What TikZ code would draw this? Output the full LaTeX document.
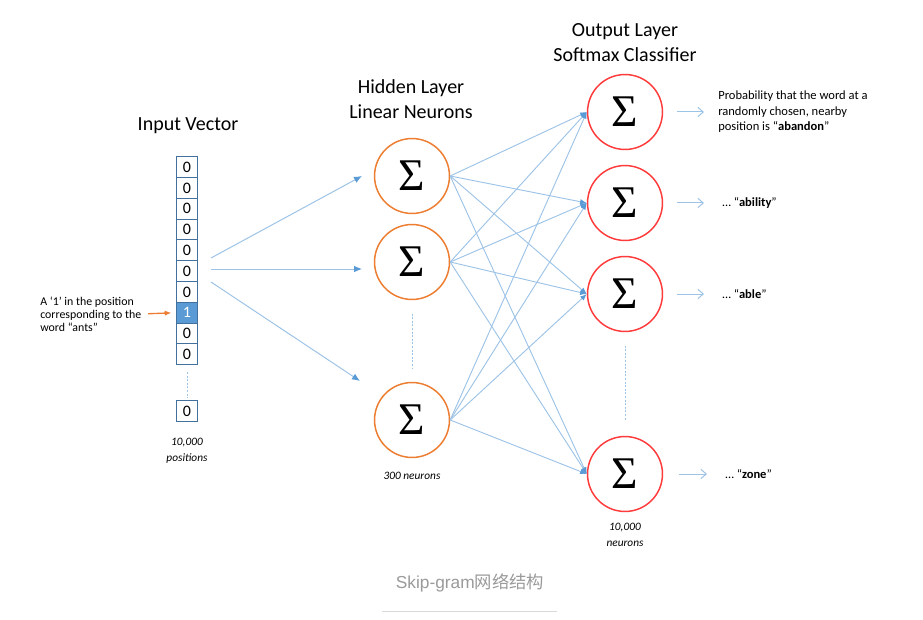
\documentclass[tikz,border=0pt]{standalone}
\usepackage{fontspec}
\setmainfont{Carlito}
\newfontfamily\sigfont{Liberation Serif}
\newfontfamily\capfont{Liberation Sans}
\newfontfamily\cjk{Noto Sans CJK SC}
\usepackage{tikz}
\usetikzlibrary{arrows.meta}
\definecolor{hidorange}{HTML}{ED7D31}
\definecolor{outred}{HTML}{FF3B3B}
\definecolor{lineblue}{HTML}{9DC3E6}
\definecolor{tipblue}{HTML}{5B9BD5}
\definecolor{boxblue}{HTML}{41719C}
\definecolor{capgray}{HTML}{9A9A9A}
\newcommand{\sig}{{\sigfont Σ}}

\begin{document}
\begin{tikzpicture}[x=0.75pt,y=-0.75pt,
  vbox/.style={draw=boxblue,line width=0.8pt,minimum size=15.6pt,inner sep=0pt,font=\fontsize{12}{12}\selectfont},
  hot/.style={vbox,fill=tipblue,text=white},
  hid/.style={circle,draw=hidorange,line width=1.1pt,minimum size=56.2pt,inner sep=0pt,font=\fontsize{34}{34}\selectfont},
  outn/.style={hid,draw=outred},
  title/.style={align=center,font=\fontsize{15}{18.75}\selectfont},
  note/.style={align=center,font=\fontsize{8.5}{12}\selectfont\itshape},
  small/.style={anchor=west,inner sep=0pt,align=left,font=\fontsize{9.4}{11.6}\selectfont},
  feed/.style={lineblue,line width=0.75pt,-{Latex[length=6pt,width=5pt,color=tipblue]}},
  conn/.style={lineblue,line width=0.7pt,-{Latex[length=5pt,width=4pt,color=tipblue]}},
  res/.style={lineblue,line width=0.75pt,-{Straight Barb[length=4pt,width=7pt]},shorten <=10pt,shorten >=10.5pt},
  dots/.style={lineblue,line width=0.6pt,dash pattern=on 1.5pt off 1.2pt}]

  \useasboundingbox (0,0) rectangle (923,620);

  \node at (188,126) [title] (intitle) {Input Vector};
  \node at (411,99.5) [title] (hidtitle) {Hidden Layer\\Linear Neurons};
  \node at (625,42.5) [title] (outtitle) {Output Layer\\Softmax Classifier};

  \foreach \b/\s [count=\i] in {0/vbox,0/vbox,0/vbox,0/vbox,0/vbox,0/vbox,0/vbox,1/hot,0/vbox,0/vbox}
    \node at (187,{146.3+20.8*\i}) [\s] (v\i) {\b};
  \node at (187,411) [vbox] (vlast) {0};
  \draw[dots,shorten <=5pt,shorten >=2pt] (v10.south) -- (vlast.north);
  \node at (187,451) [note] (inpos) {10,000\\positions};

  \node at (40,314) [anchor=west,inner sep=0pt,align=left,font=\fontsize{8.9}{9.75}\selectfont] (ants)
    {A ‘1’ in the position\\corresponding to the\\word “ants”};
  \draw[hidorange,line width=1pt,-{Latex[length=5pt,width=4pt]},shorten <=5pt,shorten >=3.5pt] (ants.east) -- (v8.west);

  \node at (412,176) [hid] (h1) {\sig};
  \node at (412,262) [hid] (h2) {\sig};
  \node at (412,420) [hid] (h3) {\sig};
  \draw[dots,shorten <=10pt,shorten >=10pt] (h2.south) -- (h3.north);
  \node at (412,476) [note] (hidnote) {300 neurons};

  \coordinate (s1) at (211,258);
  \coordinate (s2) at (211,269);
  \coordinate (s3) at (211,282);
  \coordinate (e1) at (362,176);
  \coordinate (e2) at (362,269);
  \coordinate (e3) at (360,381);
  \draw[feed] (s1) -- (e1);
  \draw[feed] (s2) -- (e2);
  \draw[feed] (s3) -- (e3);

  \node at (625,112) [outn] (o1) {\sig};
  \node at (625,203) [outn] (o2) {\sig};
  \node at (625,294) [outn] (o3) {\sig};
  \node at (625,474) [outn] (o4) {\sig};
  \draw[dots,shorten <=10pt,shorten >=12pt] (o3.south) -- (o4.north);
  \node at (625,535) [note] (outnote) {10,000\\neurons};

  \foreach \h in {h1,h2,h3}
    \foreach \o in {o1,o2,o3,o4}
      \draw[conn] (\h.east) -- (\o.west);

  \node at (718,112) [small] (p1) {Probability that the word at a\\randomly chosen, nearby\\position is “\textbf{abandon}”};
  \node at (722,203) [small] (p2) {… “\textbf{ability}”};
  \node at (722,294) [small] (p3) {… “\textbf{able}”};
  \node at (725,474) [small] (p4) {… “\textbf{zone}”};
  \draw[res] (o1.east) -- (p1.west);
  \draw[res,shorten >=13.5pt] (o2.east) -- (p2.west);
  \draw[res,shorten >=13.5pt] (o3.east) -- (p3.west);
  \draw[res,shorten <=12pt,shorten >=13.5pt] (o4.east) -- (p4.west);

  \node at (470,583) [text=capgray,font=\capfont\fontsize{13}{15}\selectfont] (caption) {Skip-gram{\cjk 网络结构}};
  \draw[black!15,line width=0.75pt] (382,611) -- (557,611);
\end{tikzpicture}
\end{document}
